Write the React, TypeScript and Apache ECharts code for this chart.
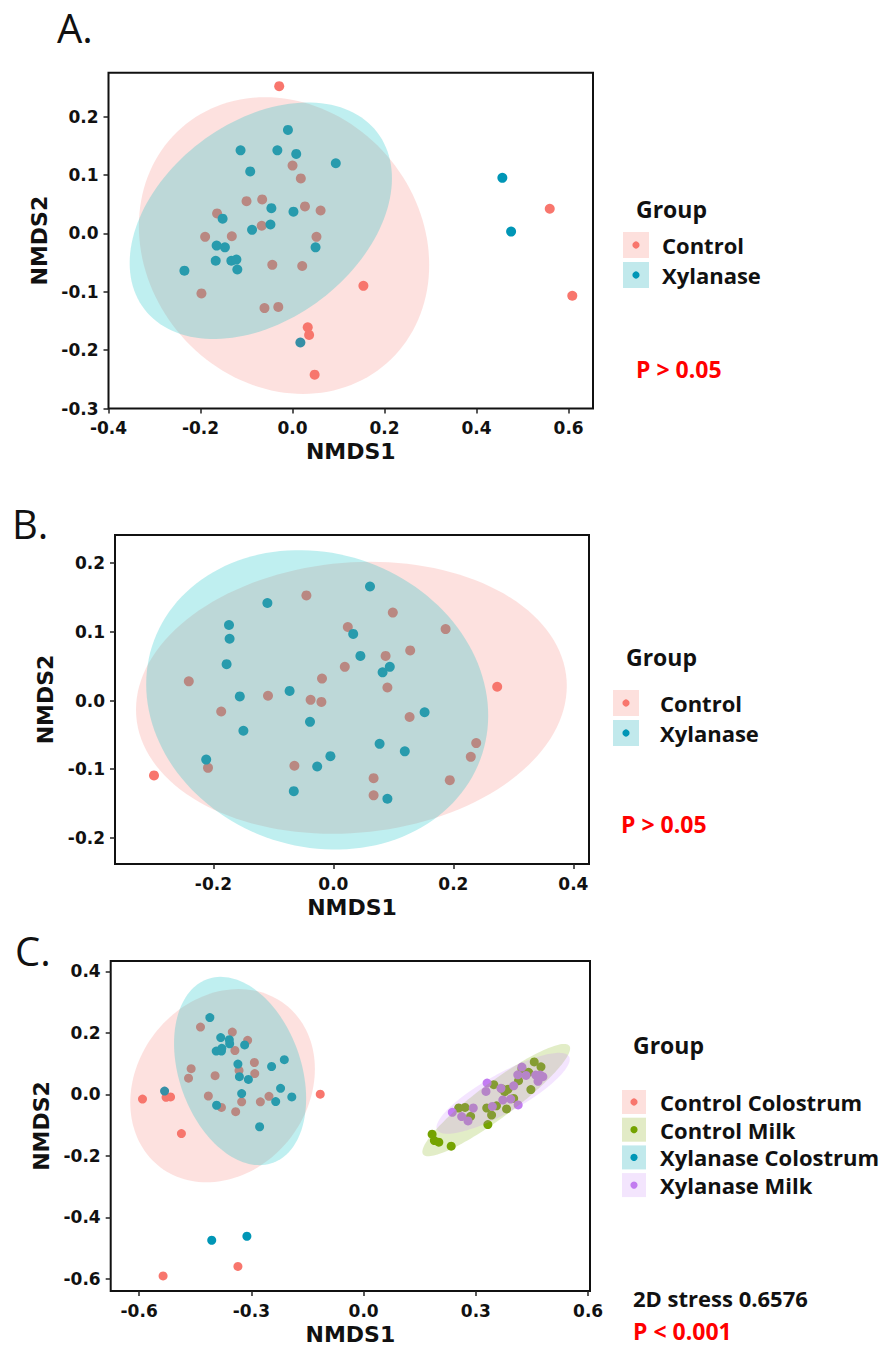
import React, { useEffect, useRef } from "react";
import * as echarts from "echarts";

// ---------- Panel A data ----------
const aControl = [
  [-0.029, 0.252], [0.0, 0.116], [0.018, 0.094], [-0.1, 0.055], [-0.066, 0.058], [-0.164, 0.034],
  [0.027, 0.046], [0.061, 0.039], [-0.067, 0.013], [-0.19, -0.006], [-0.132, -0.005], [0.052, -0.006],
  [-0.044, -0.054], [0.021, -0.056], [-0.198, -0.103], [-0.061, -0.128], [-0.031, -0.126], [0.154, -0.09],
  [0.033, -0.161], [0.036, -0.174], [0.048, -0.242], [0.559, 0.042], [0.608, -0.107],
];
const aXylanase = [
  [-0.01, 0.177], [-0.113, 0.142], [-0.033, 0.142], [0.008, 0.136], [0.094, 0.12], [-0.092, 0.106],
  [-0.046, 0.043], [0.002, 0.037], [-0.152, 0.025], [-0.048, 0.015], [-0.088, 0.006], [-0.165, -0.021],
  [-0.147, -0.024], [0.05, -0.024], [-0.167, -0.047], [-0.133, -0.047], [-0.122, -0.045], [-0.12, -0.062],
  [-0.235, -0.064], [0.017, -0.187], [0.456, 0.095], [0.475, 0.003],
];
// ellipse: [centerX, centerY, halfRangeX, halfRangeY, phaseDeg]
const aEllipses = [
  [-0.0185, -0.021, 0.3155, 0.254, 97.5],
  [-0.069, 0.0215, 0.285, 0.2025, 69],
];
const aXTicks = [-0.4, -0.2, 0, 0.2, 0.4, 0.6];
const aYTicks = [-0.3, -0.2, -0.1, 0, 0.1, 0.2];

// ---------- Panel B data ----------
const bControl = [
  [-0.045, 0.153], [0.099, 0.128], [0.024, 0.107], [0.187, 0.104], [0.128, 0.073], [0.087, 0.065],
  [0.019, 0.049], [-0.019, 0.032], [-0.241, 0.028], [0.09, 0.019], [0.273, 0.02], [-0.109, 0.007],
  [-0.038, 0.001], [-0.02, -0.002], [-0.187, -0.016], [0.127, -0.024], [0.238, -0.062], [0.229, -0.082],
  [-0.065, -0.095], [-0.209, -0.098], [-0.299, -0.109], [0.067, -0.113], [0.194, -0.116], [0.067, -0.138],
];
const bXylanase = [
  [0.061, 0.166], [-0.11, 0.142], [-0.174, 0.11], [-0.173, 0.09], [0.033, 0.097], [-0.178, 0.053],
  [0.045, 0.065], [0.094, 0.049], [0.082, 0.041], [-0.073, 0.014], [-0.156, 0.006], [-0.15, -0.044],
  [-0.039, -0.031], [0.152, -0.017], [0.077, -0.063], [0.119, -0.074], [-0.005, -0.081], [-0.212, -0.086],
  [-0.027, -0.096], [-0.066, -0.132], [0.09, -0.143],
];
const bEllipses = [
  [0.03, 0.004, 0.359, 0.198, 85],
  [-0.027, 0.001, 0.285, 0.218, 96],
];
const bXTicks = [-0.2, 0, 0.2, 0.4];
const bYTicks = [-0.2, -0.1, 0, 0.1, 0.2];

// ---------- Panel C data ----------
const cControlColostrum = [
  [-0.436, 0.219], [-0.351, 0.203], [-0.31, 0.176], [-0.344, 0.143], [-0.292, 0.104], [-0.461, 0.084],
  [-0.333, 0.078], [-0.291, 0.068], [-0.397, 0.061], [-0.468, 0.053], [-0.415, -0.005], [-0.253, -0.006],
  [-0.326, -0.024], [-0.276, -0.024], [-0.38, -0.042], [-0.342, -0.056], [-0.591, -0.015], [-0.528, -0.009],
  [-0.516, -0.008], [-0.487, -0.127], [-0.116, 0.001], [-0.536, -0.59], [-0.336, -0.559],
];
const cControlMilk = [
  [0.183, -0.129], [0.189, -0.15], [0.201, -0.155], [0.234, -0.168], [0.254, -0.044], [0.271, -0.042],
  [0.286, -0.071], [0.332, -0.098], [0.329, -0.044], [0.342, -0.067], [0.348, 0.032], [0.355, -0.037],
  [0.369, 0.019], [0.377, 0.009], [0.386, 0.017], [0.382, -0.047], [0.401, -0.013], [0.414, 0.045],
  [0.441, 0.072], [0.447, 0.016], [0.456, 0.106], [0.474, 0.09], [0.423, 0.084],
];
const cXylanaseColostrum = [
  [-0.411, 0.25], [-0.382, 0.185], [-0.359, 0.178], [-0.358, 0.165], [-0.318, 0.161], [-0.394, 0.141],
  [-0.38, 0.141], [-0.379, 0.15], [-0.336, 0.099], [-0.212, 0.113], [-0.246, 0.091], [-0.332, 0.058],
  [-0.308, 0.049], [-0.222, 0.02], [-0.326, 0.003], [-0.192, -0.008], [-0.235, -0.023], [-0.393, -0.035],
  [-0.532, 0.011], [-0.278, -0.105], [-0.406, -0.474], [-0.312, -0.461],
];
const cXylanaseMilk = [
  [0.237, -0.058], [0.262, -0.072], [0.279, -0.086], [0.293, -0.044], [0.33, 0.037], [0.327, 0.01],
  [0.367, 0.02], [0.344, -0.039], [0.372, -0.018], [0.393, -0.015], [0.401, 0.028], [0.413, -0.034],
  [0.412, 0.064], [0.423, 0.089], [0.434, 0.062], [0.46, 0.063], [0.466, 0.043], [0.472, 0.063],
  [0.479, 0.058],
];
const cEllipses = [
  [-0.377, 0.0285, 0.2467, 0.3142, 80],
  [0.3544, -0.0183, 0.1975, 0.1826, 23],
  [-0.3302, 0.0763, 0.1765, 0.3062, 107],
  [0.3728, 0.0038, 0.178, 0.1316, 33],
];
const cXTicks = [-0.6, -0.3, 0, 0.3, 0.6];
const cYTicks = [-0.6, -0.4, -0.2, 0, 0.2, 0.4];

const twoGroups = ["Control", "Xylanase"];
const fourGroups = ["Control Colostrum", "Control Milk", "Xylanase Colostrum", "Xylanase Milk"];

// ---------- styles ----------
const PT = { salmon: "#F8766D", teal: "#0096B6", green: "#74A200", purple: "#C27CF0" };
const FILL = {
  salmon: "rgba(248,118,109,0.22)",
  teal: "rgba(0,191,196,0.25)",
  green: "rgba(124,174,0,0.22)",
  purple: "rgba(199,124,255,0.2)",
};
const KEY = { salmon: "#FDE0DD", teal: "#C1E9EC", green: "#E2EBC6", purple: "#F3E5FD" };

const fmt = (v: number) => (Math.abs(v) < 1e-9 ? "0.0" : v.toFixed(1));
const tickFont = { color: "#111", fontFamily: "DejaVu Sans", fontWeight: "bold" as const, fontSize: 17 };
const nameFont = { color: "#111", fontFamily: "DejaVu Sans", fontWeight: "bold" as const, fontSize: 22 };

function mkX(gi: number, min: number, max: number, ticks: number[]) {
  return {
    type: "value", gridIndex: gi, min, max,
    axisLine: { show: false, onZero: false }, splitLine: { show: false },
    axisTick: { show: true, length: 5, lineStyle: { color: "#222", width: 1.5 }, customValues: ticks },
    axisLabel: { ...tickFont, customValues: ticks, formatter: fmt, margin: 11 },
    name: "NMDS1", nameLocation: "middle", nameGap: 32, nameTextStyle: nameFont,
  };
}
function mkY(gi: number, min: number, max: number, ticks: number[]) {
  return {
    type: "value", gridIndex: gi, min, max,
    axisLine: { show: false, onZero: false }, splitLine: { show: false },
    axisTick: { show: true, length: 5, lineStyle: { color: "#222", width: 1.5 }, customValues: ticks },
    axisLabel: { ...tickFont, customValues: ticks, formatter: fmt, margin: 10 },
    name: "NMDS2", nameLocation: "middle", nameGap: 58, nameRotate: 90, nameTextStyle: nameFont,
  };
}
function scatter(gi: number, name: string, data: number[][], color: string, size: number) {
  return {
    type: "scatter", name, xAxisIndex: gi, yAxisIndex: gi, data, symbolSize: size, z: 2,
    itemStyle: { color, opacity: 1 }, silent: true,
  };
}
function ellipse(gi: number, name: string, e: number[], fill: string) {
  return {
    type: "custom", name: name + " ellipse", xAxisIndex: gi, yAxisIndex: gi, z: 3, silent: true,
    data: [e],
    encode: { x: 0, y: 1 },
    renderItem: (_p: any, api: any) => {
      const cx = api.value(0), cy = api.value(1), A = api.value(2), B = api.value(3);
      const phi = (api.value(4) * Math.PI) / 180;
      const pts: number[][] = [];
      const n = 144;
      for (let i = 0; i < n; i++) {
        const t = (i / n) * Math.PI * 2;
        pts.push(api.coord([cx + A * Math.cos(t), cy + B * Math.cos(t - phi)]));
      }
      return { type: "polygon", shape: { points: pts }, style: { fill, stroke: null } };
    },
  };
}

function txt(x: number, y: number, text: string, size: number, weight: string | number, fill = "#111", family = "Open Sans") {
  return {
    type: "text", x, y, silent: true,
    style: { text, fill, fontSize: size, fontWeight: weight, fontFamily: family, verticalAlign: "middle", align: "left", lineHeight: size },
  };
}
function legend(x: number, titleY: number, firstY: number, step: number, keySize: number, textX: number,
  names: string[], keys: string[], dots: string[]) {
  const els: any[] = [txt(x, titleY, "Group", 23, "bold")];
  names.forEach((n, i) => {
    const cy = firstY + i * step;
    const kx = x - 13 + (keySize < 26 ? 2 : 0);
    els.push({ type: "rect", shape: { x: kx, y: cy - keySize / 2, width: keySize, height: keySize }, style: { fill: keys[i] }, silent: true });
    els.push({ type: "circle", shape: { cx: kx + keySize / 2, cy, r: 3.6 }, style: { fill: dots[i] }, silent: true });
    els.push(txt(textX, cy, n, 22, "bold"));
  });
  return els;
}

export default function App() {
  const ref = useRef<HTMLDivElement>(null);
  useEffect(() => {
    if (!ref.current) return;
    const chart = echarts.init(ref.current, undefined, { renderer: "svg" });
    const grid = (left: number, top: number, width: number, height: number) => ({
      left, top, width, height, show: true, borderColor: "#111", borderWidth: 2, backgroundColor: "transparent",
    });
    const option: any = {
      animation: false,
      backgroundColor: "#fff",
      grid: [grid(108.5, 72.7, 484.5, 335.8), grid(115, 535, 474, 329), grid(110.7, 961, 479.3, 332)],
      xAxis: [mkX(0, -0.4, 0.653, aXTicks), mkX(1, -0.364, 0.426, bXTicks), mkX(2, -0.676, 0.605, cXTicks)],
      yAxis: [mkY(0, -0.3, 0.275, aYTicks), mkY(1, -0.238, 0.241, bYTicks), mkY(2, -0.639, 0.434, cYTicks)],
      series: [
        scatter(0, twoGroups[0], aControl, PT.salmon, 10),
        scatter(0, twoGroups[1], aXylanase, PT.teal, 10),
        ellipse(0, twoGroups[0], aEllipses[0], FILL.salmon),
        ellipse(0, twoGroups[1], aEllipses[1], FILL.teal),
        scatter(1, twoGroups[0], bControl, PT.salmon, 10),
        scatter(1, twoGroups[1], bXylanase, PT.teal, 10),
        ellipse(1, twoGroups[0], bEllipses[0], FILL.salmon),
        ellipse(1, twoGroups[1], bEllipses[1], FILL.teal),
        scatter(2, fourGroups[0], cControlColostrum, PT.salmon, 9),
        scatter(2, fourGroups[1], cControlMilk, PT.green, 9),
        scatter(2, fourGroups[2], cXylanaseColostrum, PT.teal, 9),
        scatter(2, fourGroups[3], cXylanaseMilk, PT.purple, 9),
        ellipse(2, fourGroups[0], cEllipses[0], FILL.salmon),
        ellipse(2, fourGroups[1], cEllipses[1], FILL.green),
        ellipse(2, fourGroups[2], cEllipses[2], FILL.teal),
        ellipse(2, fourGroups[3], cEllipses[3], FILL.purple),
      ],
      graphic: [
        txt(57, 27, "A.", 40, 400, "#111"),
        txt(12, 523, "B.", 40, 400, "#111"),
        txt(15, 950, "C.", 40, 400, "#111"),
        ...legend(636, 209, 245, 30, 26, 662, twoGroups, [KEY.salmon, KEY.teal], [PT.salmon, PT.teal]),
        txt(636, 369, "P > 0.05", 23, "bold", "#FF0000"),
        ...legend(626, 657, 703, 30, 26, 660, twoGroups, [KEY.salmon, KEY.teal], [PT.salmon, PT.teal]),
        txt(621, 824, "P > 0.05", 23, "bold", "#FF0000"),
        ...legend(633, 1045, 1102, 27.7, 24, 660, fourGroups,
          [KEY.salmon, KEY.green, KEY.teal, KEY.purple], [PT.salmon, PT.green, PT.teal, PT.purple]),
        txt(633, 1298, "2D stress 0.6576", 22, "bold", "#111"),
        txt(633, 1331, "P < 0.001", 23, "bold", "#FF0000"),
      ],
    };
    chart.setOption(option);
    return () => chart.dispose();
  }, []);
  return <div ref={ref} style={{ position: "absolute", left: 0, top: 0, width: 879, height: 1346 }} />;
}
